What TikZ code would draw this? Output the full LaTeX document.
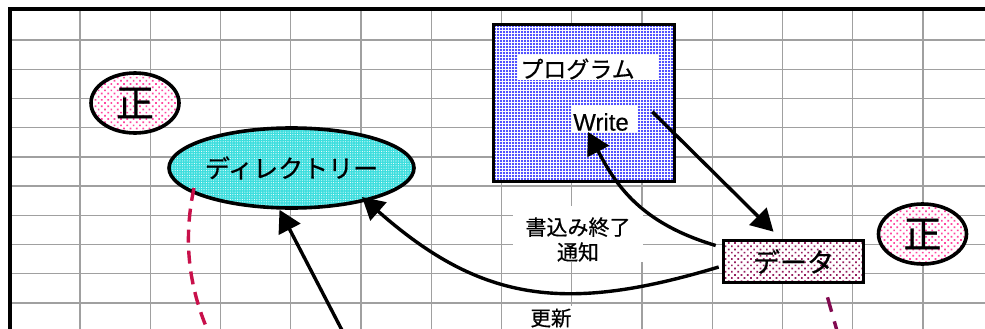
\documentclass[tikz,border=0pt]{standalone}
\usepackage{fontspec}
\setmainfont{Noto Sans CJK JP}[FakeBold=0.6]
\newfontfamily\latinfont{Liberation Sans}[FakeBold=0.4]
\usetikzlibrary{arrows.meta,patterns.meta,shapes.geometric,calc}
\definecolor{gridgray}{RGB}{160,160,160}
\definecolor{dirfill}{RGB}{60,222,222}
\definecolor{progdot}{RGB}{20,20,255}
\definecolor{pinkdot}{RGB}{255,70,160}
\definecolor{datadot}{RGB}{150,30,95}
\definecolor{dashred}{RGB}{200,16,74}
\definecolor{dashmaroon}{RGB}{130,10,80}
\begin{document}
\begin{tikzpicture}[x=1pt,y=-1pt,
  gridline/.style={draw=gridgray,line width=1.4pt},
  frameline/.style={line width=4pt},
  shapeborder/.style={draw=black,line width=3.6pt,inner sep=0pt},
  seinode/.style={shapeborder,ellipse,preaction={fill=white},
    pattern={Dots[radius=1.2pt,distance=4.5pt,angle=45]},pattern color=pinkdot,
    minimum width=88pt,minimum height=60pt,font=\fontsize{38}{40}\selectfont},
  dirnode/.style={shapeborder,ellipse,preaction={fill=dirfill},
    pattern={Dots[radius=0.55pt,distance=2.4pt]},pattern color=white,
    minimum width=232pt,minimum height=80pt,font=\fontsize{25}{28}\selectfont},
  prognode/.style={shapeborder,rectangle,preaction={fill=white},
    pattern={Dots[radius=1.15pt,distance=3pt]},pattern color=progdot,
    minimum width=181pt,minimum height=157pt},
  datanode/.style={shapeborder,rectangle,preaction={fill=white},
    pattern={Dots[radius=1.2pt,distance=4.5pt,angle=45]},pattern color=datadot,
    minimum width=140pt,minimum height=42pt,font=\fontsize{27}{30}\selectfont},
  txt/.style={inner sep=0pt},
  arr/.style={line width=3.4pt,-{Triangle[length=22pt,width=24pt]}},
  dashlink/.style={line width=3.4pt,dash pattern=on 13pt off 8pt}
]
\useasboundingbox (0,0) rectangle (985,329);
\fill[white] (0,0) rectangle (985,329);
% grid
\foreach \i in {0,...,13} \draw[gridline] ({80+70.25*\i},9) -- ({80+70.25*\i},335);
\foreach \j in {0,...,10} \draw[gridline] (10,{40+29.22*\j}) -- (990,{40+29.22*\j});
\draw[frameline] (10,335) -- (10,9) -- (990,9);

% label backgrounds
\fill[white] (513,206) rectangle (643,262);
\fill[white] (520,306) rectangle (576,335);

% nodes
\node[seinode] (sei1) at (135,103) {正};
\node[seinode] (sei2) at (922.5,234) {正};
\node[dirnode] (dir) at (291.5,168) {ディレクトリー};
\node[prognode] (prog) at (584,103) {};
\fill[white] (518,55) rectangle (658,80);
\node[txt,font=\fontsize{23}{26}\selectfont] (progname) at (577.5,69) {プログラム};
\fill[white] (572,105) rectangle (638,132);
\node[txt,font=\latinfont\fontsize{24}{26}\selectfont] (write) at (601,122) {Write};
\node[datanode] (data) at (793.5,261.5) {データ};

\node[txt,font=\fontsize{21}{25}\selectfont,align=center] (notice) at (578,239.5) {書込み終了\\通知};
\node[txt,font=\fontsize{20.5}{24}\selectfont] (update) at (551,318) {更新};

\coordinate (upfoot) at (345,336);

% connectors
\draw[arr] ($(prog.north east)+(-24,89)$) -- ($(data.north)+(-20,-7)$);
\draw[arr] ($(data.west)+(-6,-16)$) .. controls (640,223) and (616,185) .. (588,132);
\draw[arr] ($(data.west)+(-3,5.5)$) .. controls (566,313) and (482,303) .. ($(dir.center)+(70.5,29)$);
\draw[arr] (upfoot) -- ($(dir.south)+(-12,0)$);
\draw[dashlink,draw=dashred] ($(dir.center)+(-97.5,20)$) .. controls (184,235) and (186,285) .. (212,340);
\draw[dashlink,draw=dashmaroon,dash pattern=on 15pt off 10pt] ($(data.south)+(34,13)$) -- (841,345);
\end{tikzpicture}
\end{document}
